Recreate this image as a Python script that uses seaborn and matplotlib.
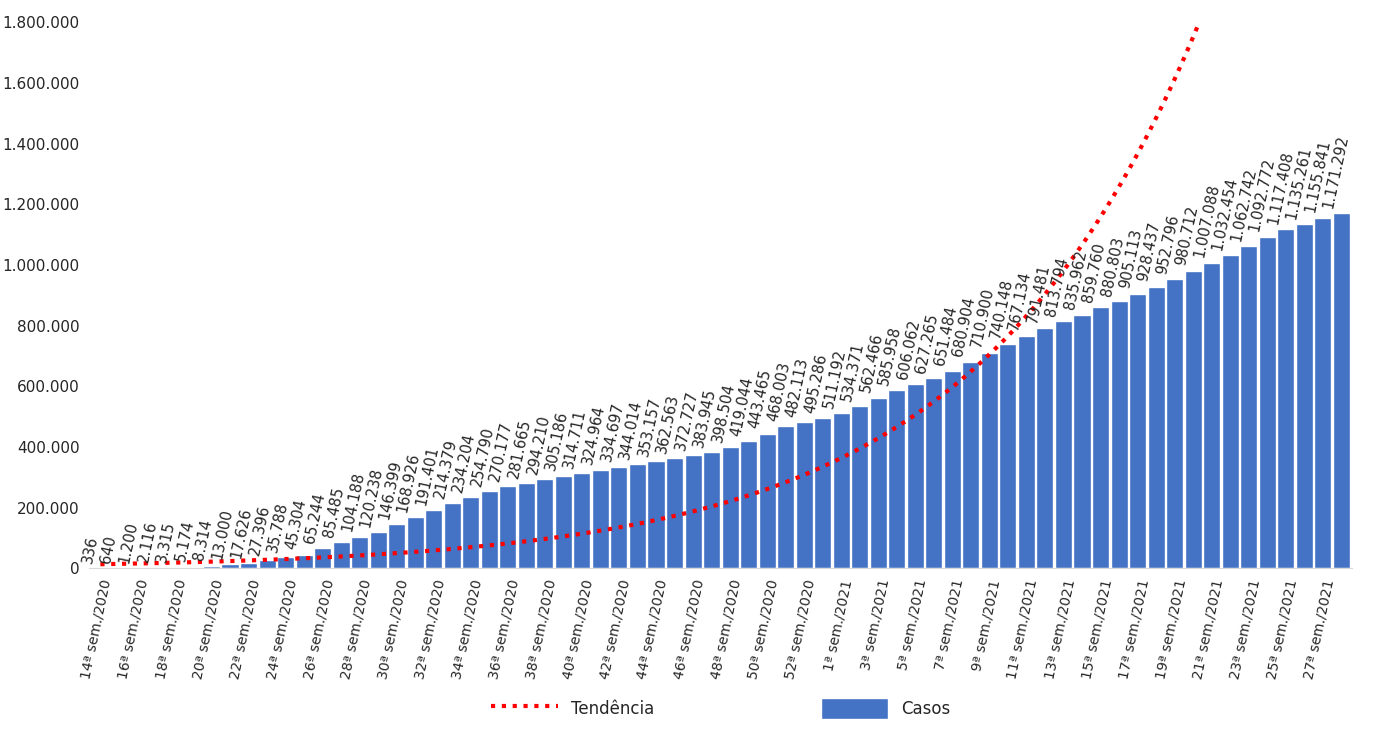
import numpy as np
import pandas as pd
import matplotlib
matplotlib.use("Agg")
import matplotlib.pyplot as plt
import seaborn as sns
from matplotlib.ticker import FuncFormatter

casos = [336, 640, 1200, 2116, 3315, 5174, 8314, 13000, 17626, 27396,
         35788, 45304, 65244, 85485, 104188, 120238, 146399, 168926, 191401, 214379,
         234204, 254790, 270177, 281665, 294210, 305186, 314711, 324964, 334697, 344014,
         353157, 362563, 372727, 383945, 398504, 419044, 443465, 468003, 482113, 495286,
         511192, 534371, 562466, 585958, 606062, 627265, 651484, 680904, 710900, 740148,
         767134, 791481, 813794, 835962, 859760, 880803, 905113, 928437, 952796, 980712,
         1007088, 1032454, 1062742, 1092772, 1117408, 1135261, 1155841, 1171292]
semanas = [f"{w}ª sem./2020" for w in range(14, 54)] + [f"{w}ª sem./2021" for w in range(1, 29)]

def br(v):
    return f"{int(v):,}".replace(",", ".")

df = pd.DataFrame({"semana": semanas, "casos": casos})
x = np.arange(len(df))

sns.set_style("white")
plt.rcParams['font.family'] = ['DejaVu Sans']
fig, ax = plt.subplots(figsize=(13.73, 7.38), dpi=100)
sns.barplot(data=df, x="semana", y="casos", color="#4472C4", width=0.92, saturation=1, ax=ax, label="Casos")

# exponential trendline (least squares on ln y, as Excel does)
b, a = np.polyfit(x, np.log(df["casos"]), 1)
xt = np.linspace(0, len(df) - 1, 400)
ax.plot(xt, np.exp(a + b * xt), color="red", ls=(0, (1, 1.6)), lw=3, label="Tendência")

for xi, v in zip(x, casos):
    ax.text(xi - 0.3, v + 12000, br(v), rotation=78, ha="left", va="bottom", fontsize=10.5,
            rotation_mode="anchor")

ax.set_ylim(0, 1800000)
ax.set_xlim(-0.6, len(df) - 0.4)
ax.set_yticks(np.arange(0, 1800001, 200000))
ax.yaxis.set_major_formatter(FuncFormatter(lambda v, p: br(v)))
ax.set_xticks(x[::2])
ax.set_xticklabels(semanas[::2], rotation=78, ha="right", rotation_mode="anchor", fontsize=10)
ax.tick_params(axis="y", labelsize=11)
ax.set_xlabel("")
ax.set_ylabel("")
for s in ["top", "right", "left"]:
    ax.spines[s].set_visible(False)
ax.spines["bottom"].set_color("#d9d9d9")

h, l = ax.get_legend_handles_labels()
order = [l.index("Tendência"), l.index("Casos")]
ax.legend([h[i] for i in order], [l[i] for i in order], loc="upper center",
          bbox_to_anchor=(0.5, -0.21), ncol=2, frameon=False, fontsize=12,
          columnspacing=10, handlelength=4, handleheight=1.6)

plt.subplots_adjust(left=0.065, right=0.985, top=0.97, bottom=0.23)
fig.savefig("out.png")
